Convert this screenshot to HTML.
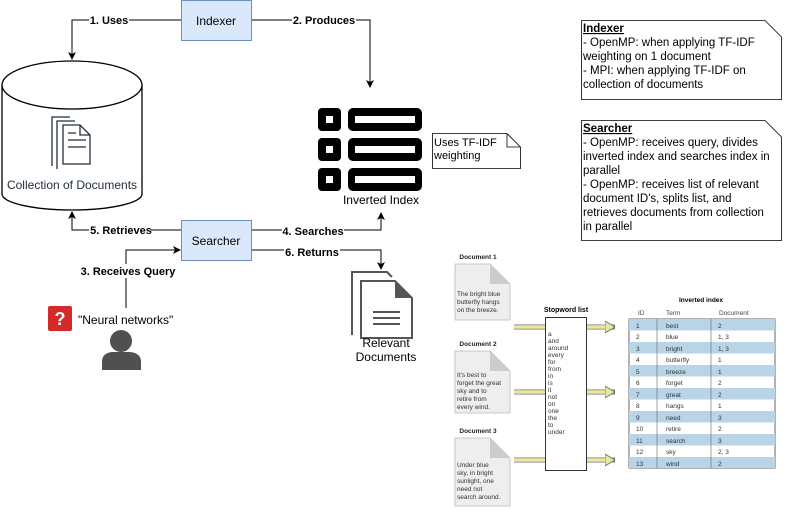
<!DOCTYPE html>
<html><head><meta charset="utf-8"><style>
body{margin:0;background:#fff}
svg{display:block;font-family:"Liberation Sans",Arial,sans-serif}
</style></head><body>
<svg width="791" height="511" viewBox="0 0 791 511" xmlns="http://www.w3.org/2000/svg">
<defs>
<marker id="a" markerWidth="8" markerHeight="8" refX="7" refY="4" orient="auto" markerUnits="userSpaceOnUse"><path d="M0,0 L8,4 L0,8 L2,4 Z" fill="#000"/></marker>
<marker id="y" markerWidth="10" markerHeight="12" refX="9" refY="6" orient="auto" markerUnits="userSpaceOnUse"><path d="M0,0 L10,6 L0,12 Z" fill="#e8e8a0" stroke="#666" stroke-width="0.8"/></marker>
</defs>
<!-- connectors -->
<g fill="none" stroke="#000" stroke-width="1">
<path d="M181,20 H72 V59" marker-end="url(#a)"/>
<path d="M251,20 H370 V87" marker-end="url(#a)"/>
<path d="M181,230 H72 V212" marker-end="url(#a)"/>
<path d="M251,230 H381 V213" marker-end="url(#a)"/>
<path d="M251,250 H381 V269" marker-end="url(#a)"/>
<path d="M126,308 V250 H180" marker-end="url(#a)"/>
</g>
<g font-size="11" font-weight="bold" text-anchor="middle">
<rect x="89" y="13" width="40" height="14" fill="#fff"/><text x="109" y="24">1. Uses</text>
<rect x="292" y="13" width="64" height="14" fill="#fff"/><text x="324" y="24">2. Produces</text>
<rect x="89" y="223" width="62" height="14" fill="#fff"/><text x="121" y="234">5. Retrieves</text>
<rect x="282" y="223" width="62" height="14" fill="#fff"/><text x="313" y="235">4. Searches</text>
<rect x="284" y="243" width="56" height="14" fill="#fff"/><text x="312" y="256">6. Returns</text>
<rect x="80" y="264" width="96" height="14" fill="#fff"/><text x="128" y="275">3. Receives Query</text>
</g>
<!-- boxes -->
<rect x="181.5" y="0.5" width="70" height="40" fill="#dae8fc" stroke="#6c8ebf"/>
<text x="216" y="25" font-size="12" text-anchor="middle">Indexer</text>
<rect x="181.5" y="220.5" width="70" height="40" fill="#dae8fc" stroke="#6c8ebf"/>
<text x="216" y="245" font-size="12" text-anchor="middle">Searcher</text>
<!-- cylinder -->
<path d="M2,85 V194 A70,16 0 0 0 142,194 V85" fill="#fff" stroke="#000" stroke-width="1.3"/>
<ellipse cx="72" cy="85" rx="70" ry="24" fill="#fff" stroke="#000" stroke-width="1.3"/>
<g fill="none" stroke="#232f3e" stroke-width="1.3">
<path d="M52,166 V117 H70"/><path d="M57,169 V121 H75"/>
<path d="M63,125 H80 L90,135 V164 H63 Z" fill="#fff"/><path d="M80,125 V135 H90"/>
<path d="M68,133 H76 M68,140 H86 M68,147 H86"/>
</g>
<text x="72" y="189" font-size="12" text-anchor="middle" fill="#232f3e">Collection of Documents</text>
<!-- inverted index icon -->
<g fill="#000">
<rect x="318" y="108" width="23" height="23" rx="4"/><rect x="348" y="108" width="74" height="23" rx="5"/>
<rect x="318" y="138" width="23" height="23" rx="4"/><rect x="348" y="138" width="74" height="23" rx="5"/>
<rect x="318" y="168" width="23" height="23" rx="4"/><rect x="348" y="168" width="74" height="23" rx="5"/>
</g>
<g fill="#fff">
<rect x="326" y="116" width="7" height="7"/><rect x="355" y="116" width="60" height="7"/>
<rect x="326" y="146" width="7" height="7"/><rect x="355" y="146" width="60" height="7"/>
<rect x="326" y="176" width="7" height="7"/><rect x="355" y="176" width="60" height="7"/>
</g>
<text x="381" y="204" font-size="12" text-anchor="middle">Inverted Index</text>
<!-- TF-IDF note -->
<path d="M432.5,133.5 H507 L520.5,147 V168.5 H432.5 Z M507,133.5 V147 H520.5" fill="#fff" stroke="#000" stroke-width="0.8"/>
<text font-size="11"><tspan x="434" y="146">Uses TF-IDF</tspan><tspan x="434" y="159">weighting</tspan></text>
<!-- question -->
<rect x="48" y="306" width="24" height="25" rx="2" fill="#d42a2a"/>
<text x="60" y="325" font-size="18" font-weight="bold" fill="#fff" text-anchor="middle">?</text>
<text x="78" y="324" font-size="12">"Neural networks"</text>
<circle cx="121" cy="341" r="11" fill="#505050"/>
<path d="M102,370 V362 Q102,353 112,352 H130 Q141,353 141,362 V370 Z" fill="#505050"/>
<!-- relevant docs -->
<path d="M352,335 V272 H387 L392,277" fill="none" stroke="#555" stroke-width="2"/>
<path d="M361,281 H395 L412,298 V338 H361 Z" fill="#fff" stroke="#555" stroke-width="2"/>
<path d="M395,281 V298 H412 Z" fill="#555"/>
<path d="M373,312 H400 M373,318 H400 M373,324 H400" stroke="#555" stroke-width="2"/>
<text font-size="12" text-anchor="middle"><tspan x="386" y="347">Relevant</tspan><tspan x="386" y="361">Documents</tspan></text>
<!-- notes -->
<path d="M581.5,20.5 H765 L781.5,37 V99.5 H581.5 Z M765,20.5 L781.5,37" fill="#fff" stroke="#000" stroke-width="0.8"/>
<text font-size="11.5"><tspan x="583" y="32" font-weight="bold" text-decoration="underline">Indexer</tspan><tspan x="583" y="46">- OpenMP: when applying TF-IDF</tspan><tspan x="583" y="60">weighting on 1 document</tspan><tspan x="583" y="74">- MPI: when applying TF-IDF on</tspan><tspan x="583" y="88">collection of documents</tspan></text>
<path d="M581.5,120.5 H765 L781.5,137 V240.5 H581.5 Z M765,120.5 L781.5,137" fill="#fff" stroke="#000" stroke-width="0.8"/>
<text font-size="11.5"><tspan x="583" y="132" font-weight="bold" text-decoration="underline">Searcher</tspan><tspan x="583" y="146">- OpenMP: receives query, divides</tspan><tspan x="583" y="160">inverted index and searches index in</tspan><tspan x="583" y="174">parallel</tspan><tspan x="583" y="188">- OpenMP: receives list of relevant</tspan><tspan x="583" y="202">document ID's, splits list, and</tspan><tspan x="583" y="216">retrieves documents from collection</tspan><tspan x="583" y="230">in parallel</tspan></text>
<!-- bottom-right figure -->
<g font-size="6.5" fill="#222">
<text x="478" y="259" font-weight="bold" text-anchor="middle">Document 1</text>
<text x="478" y="346" font-weight="bold" text-anchor="middle">Document 2</text>
<text x="478" y="433" font-weight="bold" text-anchor="middle">Document 3</text>
</g>
<g fill="#eee" stroke="#bbb" stroke-width="0.8">
<path d="M455,264 H490 L510,284 V320 H455 Z"/>
<path d="M455,351 H490 L510,371 V413 H455 Z"/>
<path d="M455,438 H490 L510,458 V506 H455 Z"/>
</g>
<g fill="#ccc"><path d="M490,264 V284 H510 Z"/><path d="M490,351 V371 H510 Z"/><path d="M490,438 V458 H510 Z"/></g>
<g font-size="6.5" fill="#333">
<text><tspan x="457" y="296">The bright blue</tspan><tspan x="457" y="304">butterfly hangs</tspan><tspan x="457" y="312">on the breeze.</tspan></text>
<text><tspan x="457" y="377">It's best to</tspan><tspan x="457" y="385">forget the great</tspan><tspan x="457" y="393">sky and to</tspan><tspan x="457" y="401">retire from</tspan><tspan x="457" y="409">every wind.</tspan></text>
<text><tspan x="457" y="467">Under blue</tspan><tspan x="457" y="475">sky, in bright</tspan><tspan x="457" y="483">sunlight, one</tspan><tspan x="457" y="491">need not</tspan><tspan x="457" y="499">search around.</tspan></text>
</g>
<g stroke="#777" stroke-width="5" fill="none"><path d="M514,327 H615"/><path d="M514,392 H615"/><path d="M514,460 H615"/></g>
<g stroke="#e8e8a0" stroke-width="3.5" fill="none"><path d="M514,327 H614" marker-end="url(#y)"/><path d="M514,392 H614" marker-end="url(#y)"/><path d="M514,460 H614" marker-end="url(#y)"/></g>
<text x="566" y="312" font-size="7" font-weight="bold" text-anchor="middle">Stopword list</text>
<rect x="545.5" y="317.5" width="41" height="153" fill="#fff" stroke="#333"/>
<text font-size="6.5" fill="#333"><tspan x="548" y="336">a</tspan><tspan x="548" y="343">and</tspan><tspan x="548" y="350">around</tspan><tspan x="548" y="357">every</tspan><tspan x="548" y="364">for</tspan><tspan x="548" y="371">from</tspan><tspan x="548" y="378">in</tspan><tspan x="548" y="385">is</tspan><tspan x="548" y="392">it</tspan><tspan x="548" y="399">not</tspan><tspan x="548" y="406">on</tspan><tspan x="548" y="413">one</tspan><tspan x="548" y="420">the</tspan><tspan x="548" y="427">to</tspan><tspan x="548" y="434">under</tspan></text>
<text x="701" y="302" font-size="6.5" font-weight="bold" text-anchor="middle">Inverted index</text>
<g font-size="6.5" fill="#444"><text x="638" y="315">ID</text><text x="666" y="315">Term</text><text x="719" y="315">Document</text></g>
<g id="tbl" font-size="6.5" fill="#333">
<rect x="629" y="319" width="146" height="149" fill="#fff" stroke="#666"/>
<g fill="#b8d4e6">
<rect x="629" y="319" width="146" height="11.5"/><rect x="629" y="342" width="146" height="11.5"/><rect x="629" y="365" width="146" height="11.5"/><rect x="629" y="388" width="146" height="11.5"/><rect x="629" y="411" width="146" height="11.5"/><rect x="629" y="434" width="146" height="11.5"/><rect x="629" y="457" width="146" height="11"/>
</g>
<path d="M657,319 V468 M711,319 V468" stroke="#666" stroke-width="0.6"/>
<g><text x="636" y="328">1</text><text x="666" y="328">best</text><text x="718" y="328">2</text>
<text x="636" y="339">2</text><text x="666" y="339">blue</text><text x="718" y="339">1, 3</text>
<text x="636" y="351">3</text><text x="666" y="351">bright</text><text x="718" y="351">1, 3</text>
<text x="636" y="362">4</text><text x="666" y="362">butterfly</text><text x="718" y="362">1</text>
<text x="636" y="374">5</text><text x="666" y="374">breeze</text><text x="718" y="374">1</text>
<text x="636" y="385">6</text><text x="666" y="385">forget</text><text x="718" y="385">2</text>
<text x="636" y="397">7</text><text x="666" y="397">great</text><text x="718" y="397">2</text>
<text x="636" y="408">8</text><text x="666" y="408">hangs</text><text x="718" y="408">1</text>
<text x="636" y="420">9</text><text x="666" y="420">need</text><text x="718" y="420">3</text>
<text x="636" y="431">10</text><text x="666" y="431">retire</text><text x="718" y="431">2</text>
<text x="636" y="443">11</text><text x="666" y="443">search</text><text x="718" y="443">3</text>
<text x="636" y="454">12</text><text x="666" y="454">sky</text><text x="718" y="454">2, 3</text>
<text x="636" y="466">13</text><text x="666" y="466">wind</text><text x="718" y="466">2</text></g>
</g>
</svg>
</body></html>
